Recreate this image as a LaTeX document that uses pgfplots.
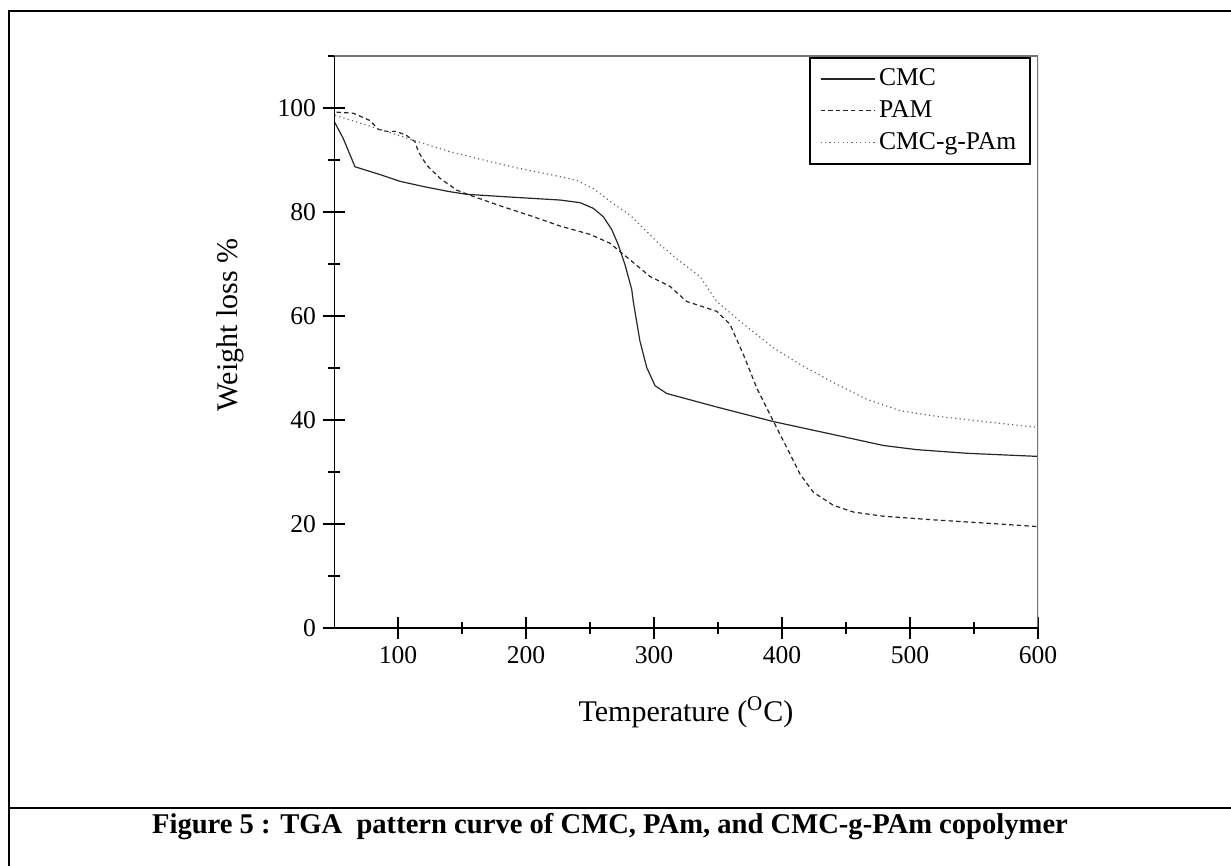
\documentclass[border=0pt]{standalone}
\usepackage{fontspec}
\setmainfont{Liberation Serif}
\usepackage{pgfplots}
\pgfplotsset{compat=1.18}

\begin{document}
\begin{tikzpicture}
\useasboundingbox (0pt,0pt) rectangle (615.5pt,-433pt);
% outer frame and caption cell
\draw[line width=1pt] (4.5pt,-440pt) -- (4.5pt,-5.5pt) -- (620pt,-5.5pt);
\draw[line width=1pt] (4.5pt,-404pt) -- (620pt,-404pt);
\node[anchor=base, inner sep=0pt, font=\bfseries\fontsize{14.3}{17}\selectfont]
  at (305pt,-416.5pt) {Figure 5 : TGA~ pattern curve of CMC, PAm, and CMC-g-PAm copolymer};

\begin{axis}[
    at={(167pt,-314pt)}, anchor=south west,
    scale only axis, width=352pt, height=286pt,
    xmin=50, xmax=600, ymin=0, ymax=110,
    xtick={100,200,300,400,500,600},
    minor xtick={150,250,350,450,550},
    ytick={0,20,40,60,80,100},
    minor ytick={10,30,50,70,90,110},
    tick pos=left, tick align=center,
    major tick length=11pt, minor tick length=6pt,
    every tick/.style={black, line width=1pt},
    axis line style={draw=none},
    /pgf/number format/assume math mode=true,
    ticklabel style={font=\fontsize{12.8}{14}\selectfont},
    xlabel={Temperature (\textsuperscript{O}C)},
    ylabel={Weight loss \%},
    label style={font=\fontsize{15}{17}\selectfont},
    xlabel shift=10pt, ylabel shift=10pt,
    ylabel style={at={(ticklabel cs:0.53)}},
    legend cell align=left,
    legend style={at={(0.99,0.998)}, anchor=north east, draw=black, line width=0.8pt,
        font=\fontsize{12.8}{14}\selectfont, row sep=2pt, inner xsep=5pt, inner ysep=3.5pt},
    legend image code/.code={\draw[#1] (0pt,0pt) -- (27pt,0pt);},
]

\addplot[black!85, line width=0.6pt] coordinates {
(50,97.5)(57.3,94.1)(62.5,91)(66.4,88.7)(85.9,87.2)(101.6,85.9)(119.8,84.9)
(140.6,83.9)(153.7,83.4)(192.7,82.8)(226.6,82.3)(242.2,81.8)(252.6,80.7)
(260.4,79.1)(267,76.6)(272.1,73.7)(277.3,69.9)(282.6,65.1)(283.8,62.8)
(289,55.2)(294.3,50.1)(300.8,46.6)(309.9,45.1)(349,42.5)(393.2,39.7)
(440.1,37.2)(479.2,35.1)(505.2,34.3)(544.3,33.6)(600,33.0)
};
\addlegendentry{CMC}

\addplot[black!85, line width=0.6pt, dash pattern=on 2.2pt off 1.6pt] coordinates {
(52,99.2)(65,99)(78,97.6)(84.6,95.9)(91.1,95.5)(98.9,95.5)(106.8,94.7)
(113.3,93.5)(115.9,91.6)(122.4,89)(132.8,86.5)(145.9,84.2)(158.8,83)
(179.7,81.2)(205.7,79.1)(226.6,77.3)(250,75.7)(265.6,74)(281.3,70.8)
(296.9,67.6)(312.5,65.7)(325.5,62.8)(349,60.9)(359.4,58.4)(369.8,52.6)
(380.2,46.2)(393.2,39.8)(403.7,34.7)(414.1,29.6)(424.5,26.1)(440.1,23.6)
(455.7,22.3)(479.2,21.5)(518.2,20.8)(557.3,20.2)(600,19.5)
};
\addlegendentry{PAM}

\addplot[black!60, line width=0.6pt, dash pattern=on 0.6pt off 1.6pt] coordinates {
(50.8,98.6)(67.7,97.3)(88.5,95.7)(111.9,93.8)(140.6,91.6)(166.6,90)
(192.7,88.5)(218.8,87.2)(239.6,86.1)(252.6,84.5)(268.2,81.6)(281.3,79.4)
(291.6,76.9)(304.7,73.7)(320.3,70.5)(335.9,67.6)(349,62.8)(367.2,59)
(393.2,53.9)(414.1,50.7)(440.1,47.2)(466.1,44)(492.2,41.8)(518.2,40.8)
(557.3,39.7)(599,38.6)
};
\addlegendentry{CMC-g-PAm}

\draw[black!55, line width=0.6pt] (rel axis cs:0,1) -- (rel axis cs:1,1) -- (rel axis cs:1,0);
\draw[black, line width=1pt] (rel axis cs:0,1) -- (rel axis cs:0,0) -- (rel axis cs:1,0);
\end{axis}
\end{tikzpicture}
\end{document}
